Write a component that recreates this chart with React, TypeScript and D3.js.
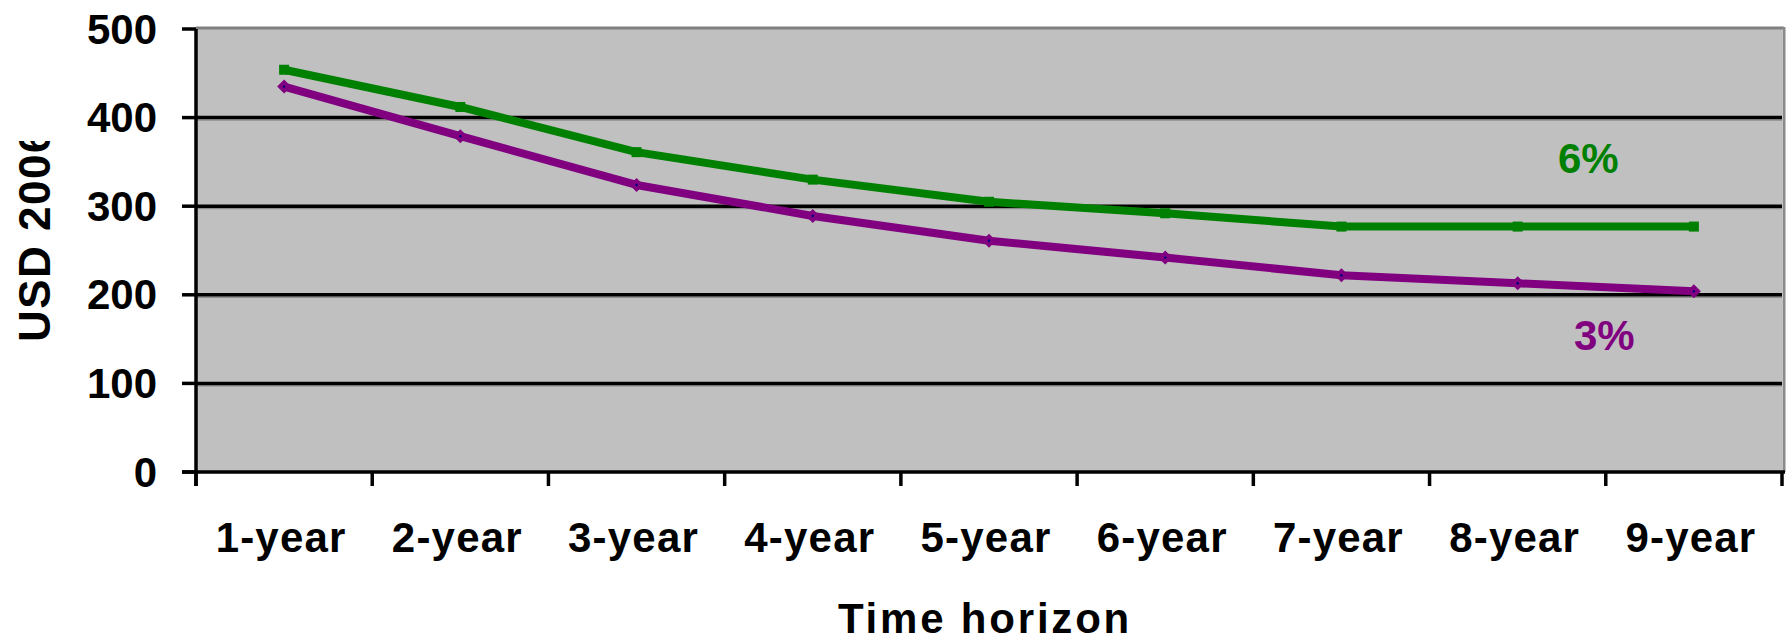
import React from "react";
import * as d3 from "d3";

const categories = ["1-year", "2-year", "3-year", "4-year", "5-year", "6-year", "7-year", "8-year", "9-year"];
const series6 = [454, 412, 361, 330, 305, 292, 277, 277, 277];
const series3 = [435, 379, 324, 289, 261, 242, 222, 213, 204];
const yTicks = [0, 100, 200, 300, 400, 500];

const W = 1788;
const H = 642;
const left = 196;
const right = 1782;
const top = 29;
const bottom = 472;
const GREEN = "#008000";
const PURPLE = "#800080";
const FONT = "Liberation Sans, Arial, Helvetica, sans-serif";

export default function App() {
  const x = d3.scaleBand<string>().domain(categories).range([left, right]).padding(0);
  const y = d3.scaleLinear().domain([0, 500]).range([bottom, top]);
  const cx = (c: string) => (x(c) as number) + x.bandwidth() / 2;

  const line = d3
    .line<number>()
    .x((_, i) => cx(categories[i]))
    .y((d) => y(d));

  return (
    <div style={{ position: "absolute", left: 0, top: 0 }}>
      <svg width={W} height={H} style={{ display: "block", background: "#fff" }}>
        <defs>
          <clipPath id="ytitleclip">
            <rect x={0} y={141} width={100} height={300} />
          </clipPath>
        </defs>
        {/* plot background */}
        <rect x={left} y={top} width={right - left} height={bottom - top} fill="#C0C0C0" />
        {/* top & right border */}
        <line x1={left} x2={right + 2} y1={top - 1} y2={top - 1} stroke="#808080" strokeWidth={3} />
        <line x1={right + 2} x2={right + 2} y1={top - 2} y2={bottom} stroke="#8a8a8a" strokeWidth={3} />
        {/* gridlines */}
        {yTicks.filter((t) => t !== 0 && t !== 500).map((t) => (
          <g key={t}>
            <line x1={left} x2={right} y1={y(t) + 2.5} y2={y(t) + 2.5} stroke="#808080" strokeWidth={1} />
            <line x1={left} x2={right} y1={y(t)} y2={y(t)} stroke="#000" strokeWidth={3.5} />
          </g>
        ))}
        {/* y ticks */}
        {yTicks.map((t) => (
          <g key={"yt" + t}>
            <line x1={left - 14} x2={left} y1={y(t)} y2={y(t)} stroke="#000" strokeWidth={3.5} />
            <text
              x={157}
              y={y(t)}
              textAnchor="end"
              dominantBaseline="central"
              fontFamily={FONT}
              fontWeight="bold"
              fontSize={42}
              fill="#000"
            >
              {t}
            </text>
          </g>
        ))}
        {/* x ticks */}
        {categories.map((c) => (
          <line
            key={"xt" + c}
            x1={x(c) as number}
            x2={x(c) as number}
            y1={bottom}
            y2={bottom + 14}
            stroke="#000"
            strokeWidth={3.5}
          />
        ))}
        <line x1={right} x2={right} y1={bottom} y2={bottom + 14} stroke="#000" strokeWidth={3.5} />
        {/* axes */}
        <line x1={left} x2={left} y1={top} y2={bottom + 14} stroke="#000" strokeWidth={3.5} />
        <line x1={left - 14} x2={right + 3} y1={bottom} y2={bottom} stroke="#000" strokeWidth={3.5} />
        {/* category labels */}
        {categories.map((c) => (
          <text
            key={"xl" + c}
            x={cx(c) - 3}
            y={552}
            textAnchor="middle"
            fontFamily={FONT}
            fontWeight="bold"
            fontSize={42}
            letterSpacing={1.2}
            fill="#000"
          >
            {c}
          </text>
        ))}
        {/* series lines */}
        <path d={line(series6) || ""} fill="none" stroke={GREEN} strokeWidth={8} strokeLinejoin="round" />
        <path d={line(series3) || ""} fill="none" stroke={PURPLE} strokeWidth={8} strokeLinejoin="round" />
        {/* markers */}
        {series6.map((v, i) => (
          <rect
            key={"m6" + i}
            x={cx(categories[i]) - 5}
            y={y(v) - 5}
            width={10}
            height={10}
            fill={GREEN}
          />
        ))}
        {series3.map((v, i) => (
          <g key={"m3" + i} transform={`translate(${cx(categories[i])},${y(v)})`}>
            <path d="M0,-7L7,0L0,7L-7,0Z" fill={PURPLE} />
            <circle r={1.2} fill="#000080" />
          </g>
        ))}
        {/* series labels */}
        <text x={1558} y={173} fontFamily={FONT} fontWeight="bold" fontSize={42} fill={GREEN}>
          6%
        </text>
        <text x={1574} y={350} fontFamily={FONT} fontWeight="bold" fontSize={42} fill={PURPLE}>
          3%
        </text>
        {/* axis titles */}
        <text
          x={(left + right) / 2 - 4}
          y={633}
          textAnchor="middle"
          fontFamily={FONT}
          fontWeight="bold"
          fontSize={42}
          letterSpacing={2.8}
          fill="#000"
        >
          Time horizon
        </text>
        <g clipPath="url(#ytitleclip)">
          <text
            transform="translate(50,342) rotate(-90)"
            textAnchor="start"
            fontFamily={FONT}
            fontWeight="bold"
            fontSize={44}
            letterSpacing={1.5}
            fill="#000"
          >
            USD 2006
          </text>
        </g>
      </svg>
    </div>
  );
}
